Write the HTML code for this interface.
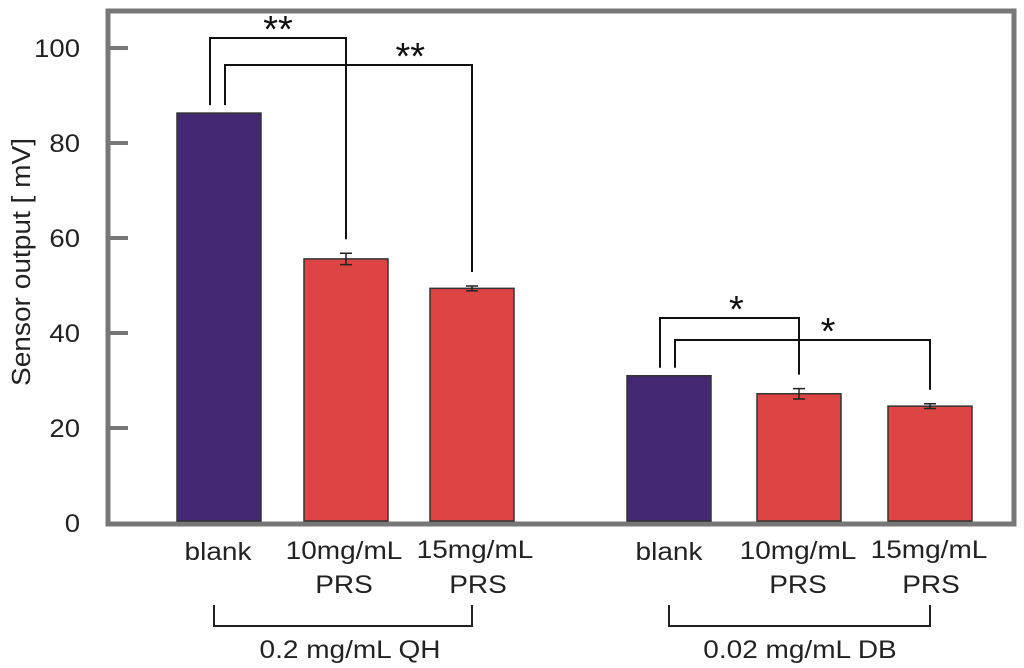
<!DOCTYPE html>
<html><head><meta charset="utf-8"><style>
body{margin:0;background:#fff}
svg{display:block;font-family:"Liberation Sans",Arial,sans-serif}
</style></head><body>
<svg id="chart" width="1024" height="668" viewBox="0 0 1024 668">
<rect x="108" y="11" width="906" height="513" fill="#fff" stroke="#777" stroke-width="5"/>
<g id="ticks"></g>
<g id="bars"></g>
<g id="sig"></g>
<text transform="translate(30,262) rotate(-90) scale(1.08,1)" text-anchor="middle" font-size="26" fill="#222">Sensor output [ mV]</text>
<g font-size="25" fill="#222" text-anchor="middle">
<text transform="translate(218,560) scale(1.12,1)">blank</text>
<text transform="translate(344,559) scale(1.12,1)">10mg/mL</text>
<text transform="translate(344,593) scale(1.12,1)">PRS</text>
<text transform="translate(475,558) scale(1.12,1)">15mg/mL</text>
<text transform="translate(478,593) scale(1.12,1)">PRS</text>
<text transform="translate(669,560) scale(1.12,1)">blank</text>
<text transform="translate(798,559) scale(1.12,1)">10mg/mL</text>
<text transform="translate(798,593) scale(1.12,1)">PRS</text>
<text transform="translate(929,558) scale(1.12,1)">15mg/mL</text>
<text transform="translate(931,593) scale(1.12,1)">PRS</text>
<text transform="translate(350,658) scale(1.12,1)">0.2 mg/mL QH</text>
<text transform="translate(800,658) scale(1.12,1)">0.02 mg/mL DB</text>
</g>
<path d="M214 605V626H472V605" fill="none" stroke="#222" stroke-width="2"/>
<path d="M669 605V626H930V605" fill="none" stroke="#222" stroke-width="2"/>
</svg>
<script>
const categories=["blank QH","10mg/mL PRS QH","15mg/mL PRS QH","blank DB","10mg/mL PRS DB","15mg/mL PRS DB"];
const values=[86.3,55.6,49.4,31.0,27.2,24.6];
const errors=[0,1.2,0.5,0,1.1,0.5];
const yTicks=[0,20,40,60,80,100];
const sigPairs=[[0,1,"**"],[0,2,"**"],[3,4,"*"],[3,5,"*"]];
const NS="http://www.w3.org/2000/svg";
const y=v=>523-v*4.75;
const barX=[177,304,430,627,757,888], barW=84;
function mk(tag,attrs,parent){const e=document.createElementNS(NS,tag);for(const k in attrs)e.setAttribute(k,attrs[k]);parent.appendChild(e);return e;}
const tg=document.getElementById('ticks');
yTicks.forEach(t=>{
  if(t>0){const l=mk('line',{x1:108,x2:128,y1:y(t),y2:y(t),stroke:'#777','stroke-width':4},tg);
  
  }
  const tx=mk('text',{transform:`translate(80,${y(t)+9}) scale(1.1,1)`,'text-anchor':'end','font-size':25,fill:'#222'},tg);
  tx.textContent=t;
  
  
});
const bg=document.getElementById('bars');
values.forEach((v,i)=>{
  const blank=i%3===0;
  const r=mk('rect',{x:barX[i],y:y(v),width:barW,height:521-y(v),fill:blank?'#432872':'#dd4444',stroke:'#333','stroke-width':1.5},bg);
  
  
  if(errors[i]>0){
    const cx=barX[i]+barW/2,t=y(v+errors[i]),b=y(v-errors[i]);
    const e=mk('path',{d:`M${cx-6} ${t}H${cx+6}M${cx} ${t}V${b}M${cx-6} ${b}H${cx+6}`,stroke:'#222','stroke-width':1.5,fill:'none'},bg);
    
    
  }
});
const sg=document.getElementById('sig');
const sigTop=[38,65,318,340];
const starFrac=[0.5,0.75,0.55,0.6];
sigPairs.forEach((p,k)=>{
  const a=p[0],b=p[1];
  const left=barX[a]+(k%2===0?33:48);
  const right=barX[b]+barW/2;
  const top=sigTop[k];
  const leftBot=y(values[a])-8, rightBot=y(values[b]+errors[b])-14;
  const path=mk('path',{d:`M${left} ${leftBot}V${top}H${right}V${rightBot}`,fill:'none',stroke:'#111','stroke-width':2},sg);
  
  
  const st=mk('text',{x:left+(right-left)*starFrac[k],y:top+4,'text-anchor':'middle','font-size':38,fill:'#111'},sg);
  st.textContent=p[2];
  
  
});
</script>
</body></html>
